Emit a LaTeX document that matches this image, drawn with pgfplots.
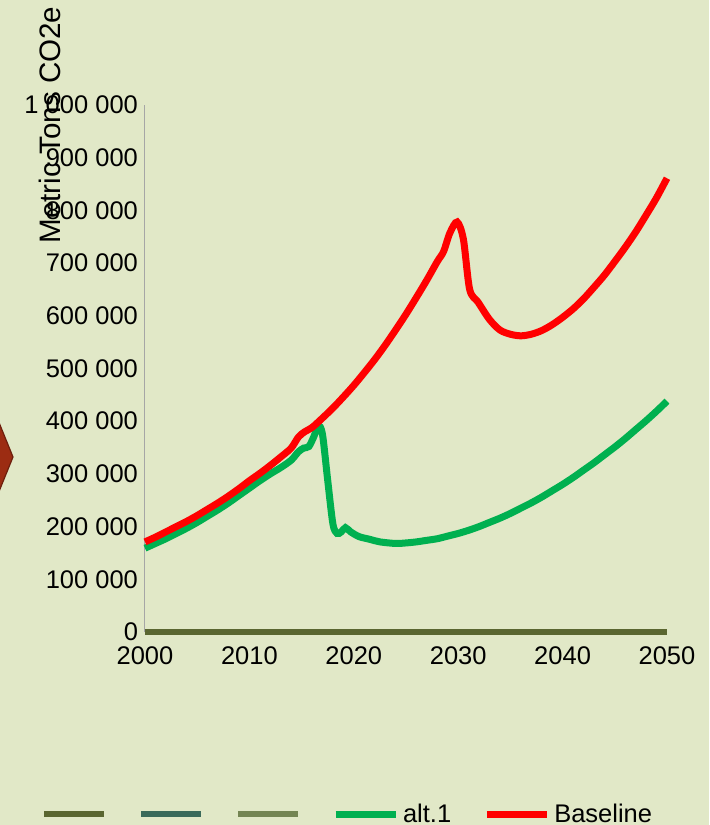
\documentclass[border=0pt]{standalone}
\usepackage{fontspec}
\setmainfont{Liberation Sans}
\usepackage{pgfplots}
\pgfplotsset{compat=1.18}

\definecolor{bgc}{RGB}{225,232,199}
\definecolor{olivec}{RGB}{90,102,48}
\definecolor{tealc}{RGB}{58,106,90}
\definecolor{lolivec}{RGB}{116,133,83}
\definecolor{greenc}{RGB}{0,176,80}
\definecolor{diam}{RGB}{156,44,18}

\begin{document}
\begin{tikzpicture}
% page background, 1px = 0.5pt, plot area corner at (0,0)
\fill[bgc] (-72.5pt,-96.5pt) rectangle (282pt,316pt);
\filldraw[fill=diam, draw=diam!70!black, line width=0.6pt]
  (-66pt,87.5pt) -- (-80pt,122pt) -- (-94pt,87.5pt) -- (-80pt,53pt) -- cycle;

\begin{axis}[
  at={(0,0)}, anchor=south west,
  scale only axis,
  width=261pt, height=263.5pt,
  xmin=2000, xmax=2050,
  ymin=0, ymax=1000000,
  scaled y ticks=false,
  clip=false,
  axis lines*=left,
  x axis line style={draw=none},
  y axis line style={draw=gray!70, line width=0.5pt},
  major tick length=0pt,
  xtick={2000,2010,2020,2030,2040,2050},
  xticklabels={2000,2010,2020,2030,2040,2050},
  ytick={0,100000,200000,300000,400000,500000,600000,700000,800000,900000,1000000},
  yticklabels={0,100 000,200 000,300 000,400 000,500 000,600 000,700 000,800 000,900 000,1 000 000},
  tick label style={font=\fontsize{12.75}{14}\selectfont},
  yticklabel style={xshift=0pt},
  xticklabel style={yshift=-4pt},
  ylabel={Metric Tons CO2e},
  ylabel style={at={(axis description cs:-0.182,0.962)}, anchor=center,
    font=\fontsize{14.8}{16}\selectfont},
  legend columns=-1,
  legend style={at={(axis description cs:0.39,-0.346)}, anchor=center,
    draw=none, fill=none, font=\fontsize{12.75}{14}\selectfont,
    /tikz/every even column/.append style={column sep=14pt}},
  legend image code/.code={\draw[#1] (0pt,0pt) -- (30pt,0pt);},
]

\addlegendimage{olivec, line width=3pt}\addlegendentry{\mbox{}\hspace*{-2.5pt}}
\addlegendimage{tealc, line width=3pt}\addlegendentry{\mbox{}\hspace*{-2.5pt}}
\addlegendimage{lolivec, line width=3pt}\addlegendentry{\mbox{}\hspace*{-2.5pt}}

\addplot[tealc, line width=3pt, forget plot] coordinates {(2000,0) (2050,0)};
\addplot[lolivec, line width=3pt, forget plot] coordinates {(2000,0) (2050,0)};
\addplot[olivec, line width=3pt, forget plot] coordinates {(2000,0) (2050,0)};

% alt.1
\addplot[greenc, line width=3.5pt, smooth, tension=0.5] coordinates {
(2000,159000) (2001,168000) (2002,177000) (2003,187000) (2004,197000)
(2005,208000) (2006,220000) (2007,232000) (2008,245000) (2009,259000)
(2010,273000) (2011,287000) (2012,300000) (2013,312000) (2014,326000)
(2014.7,342000) (2015.2,349000) (2015.7,352000) (2016.2,372000) (2016.6,392000)
(2017,375000) (2017.5,288000) (2018,205000) (2018.4,187000) (2018.8,190000)
(2019.2,198000) (2019.7,190000) (2020.5,181000) (2021.5,176000) (2022.5,171000)
(2024,168000) (2025,169000) (2026,171000) (2027,174000) (2028,177000)
(2029,182000) (2030,187000) (2031,193000) (2032,200000) (2033,208000)
(2034,216000) (2035,225000) (2036,235000) (2037,245000) (2038,256000)
(2039,268000) (2040,280000) (2041,293000) (2042,307000) (2043,321000)
(2044,336000) (2045,351000) (2046,367000) (2047,384000) (2048,401000)
(2049,419000) (2050,438000)
};
\addlegendentry{alt.1}

% Baseline
\addplot[red, line width=3.5pt, smooth, tension=0.5] coordinates {
(2000,171000) (2001,180000) (2002,190000) (2003,200000) (2004,210000)
(2005,221000) (2006,233000) (2007,245000) (2008,258000) (2009,272000)
(2010,287000) (2011,301000) (2012,316000) (2013,332000) (2014,349000)
(2014.7,370000) (2015.3,380000) (2016,388000) (2017,406000) (2018,425000)
(2019,446000) (2020,468000) (2021,492000) (2022,517000) (2023,544000)
(2024,573000) (2025,603000) (2026,635000) (2027,668000) (2028,703000)
(2028.6,722000) (2029.2,757000) (2029.9,778000) (2030.5,745000) (2031.1,650000)
(2031.9,626000) (2033,593000) (2034,573000) (2035,565000) (2036,562000)
(2037,565000) (2038,572000) (2039,583000) (2040,597000) (2041,613000)
(2042,632000) (2043,654000) (2044,677000) (2045,703000) (2046,730000)
(2047,759000) (2048,791000) (2049,824000) (2050,861000)
};
\addlegendentry{Baseline}

\end{axis}
\pgfresetboundingbox
\path (-72.5pt,-96.5pt) rectangle (282pt,316pt);
\end{tikzpicture}
\end{document}
